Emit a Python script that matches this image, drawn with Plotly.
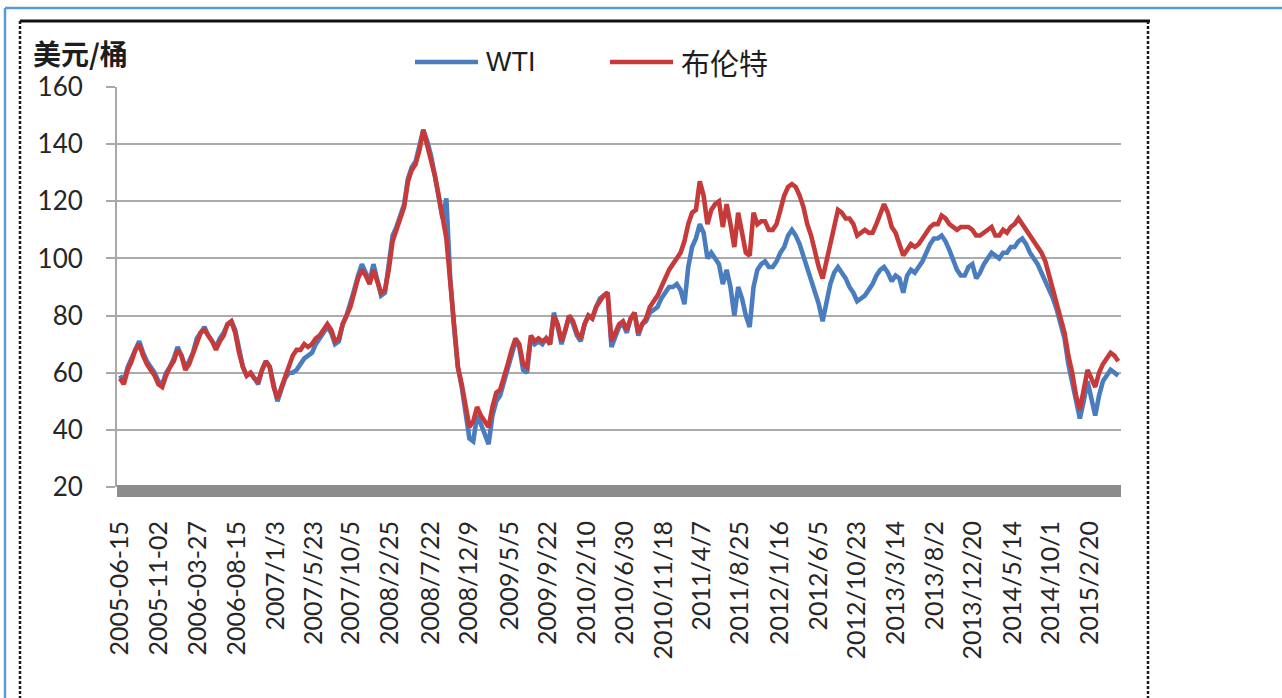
import pandas as pd
import plotly.graph_objects as go

# ---------------- data (one value every 14 days) ----------------
start_date = "2005-06-15"
step_days = 14

wti = [
    59, 57, 62, 65, 68, 71, 67, 64, 62, 60,
    57, 56, 60, 62, 65, 69, 66, 62, 64, 67,
    72, 74, 76, 73, 71, 69, 72, 74, 77, 78,
    75, 68, 62, 59, 60, 58, 56, 61, 64, 62,
    56, 50, 54, 58, 60, 60, 61, 63, 65, 66,
    67, 70, 72, 74, 76, 74, 70, 71, 77, 80,
    84, 89, 94, 98, 95, 92, 98, 92, 87, 88,
    97, 108, 111, 115, 119, 128, 132, 134, 139, 145,
    141, 136, 129, 122, 114, 121, 93, 76, 62, 55,
    47, 37, 36, 45, 42, 38, 35, 45, 50, 52,
    57, 62, 67, 71, 69, 61, 60, 72, 70, 71,
    70, 72, 70, 81, 76, 70, 75, 80, 77, 73,
    71, 77, 80, 79, 83, 86, 87, 88, 69, 73,
    76, 77, 74, 79, 81, 73, 77, 78, 81, 82,
    83, 86, 88, 90, 90, 91, 89, 84, 97, 104,
    107, 112, 109, 100, 102, 100, 98, 91, 96, 90,
    80, 90, 86, 80, 76, 90, 96, 98, 99, 97,
    97, 99, 102, 104, 108, 110, 108, 105, 101, 97,
    92, 88, 84, 78, 85, 91, 95, 97, 95, 93,
    90, 88, 85, 86, 87, 89, 91, 94, 96, 97,
    95, 92, 94, 93, 88, 94, 96, 95, 97, 99,
    102, 105, 107, 107, 108, 106, 103, 99, 96, 94,
    94, 97, 98, 93, 95, 98, 100, 102, 101, 100,
    102, 102, 104, 104, 106, 107, 105, 102, 100, 98,
    95, 92, 89, 86, 82, 77, 72, 63, 56, 49,
    44, 50, 57, 51, 45, 52, 57, 59, 61, 60,
    59,
]

brent = [
    58, 56, 61, 64, 68, 70, 66, 63, 61, 59,
    56, 55, 59, 62, 64, 68, 66, 61, 63, 67,
    71, 74, 75, 73, 71, 68, 71, 73, 77, 78,
    74, 67, 62, 59, 60, 58, 57, 61, 64, 62,
    55, 51, 55, 59, 63, 66, 68, 68, 70, 69,
    70, 72, 73, 75, 77, 75, 71, 72, 77, 80,
    83, 88, 93, 96, 94, 91, 96, 92, 88, 89,
    96, 106, 110, 114, 118, 127, 131, 133, 138, 145,
    140, 135, 129, 122, 114, 107, 92, 75, 62, 56,
    48, 41, 43, 48, 45, 43, 41, 48, 53, 54,
    58, 63, 68, 72, 70, 63, 62, 73, 71, 72,
    71, 72, 70, 80, 77, 71, 75, 80, 78, 74,
    72, 77, 80, 79, 83, 85, 87, 88, 71, 74,
    77, 78, 75, 79, 81, 74, 77, 79, 83, 85,
    87, 90, 93, 96, 98, 100, 102, 106, 112, 116,
    117, 127, 122, 112, 117, 119, 120, 111, 119, 112,
    104, 116, 108, 102, 101, 116, 112, 113, 113, 110,
    110, 112, 117, 122, 125, 126, 125, 122, 118, 112,
    108, 102, 97, 93, 99, 105, 111, 117, 116, 114,
    114, 112, 108, 109, 110, 109, 109, 112, 116, 119,
    116, 111, 109, 105, 101, 103, 105, 104, 105, 107,
    109, 111, 112, 112, 115, 114, 112, 111, 110, 111,
    111, 111, 110, 108, 108, 109, 110, 111, 108, 108,
    110, 109, 111, 112, 114, 112, 110, 108, 106, 104,
    102, 99, 94, 90, 85, 80, 74, 66, 60, 52,
    47, 54, 61, 58, 55, 60, 63, 65, 67, 66,
    64,
]

tick_labels = [
    "2005-06-15", "2005-11-02", "2006-03-27", "2006-08-15", "2007/1/3",
    "2007/5/23", "2007/10/5", "2008/2/25", "2008/7/22", "2008/12/9",
    "2009/5/5", "2009/9/22", "2010/2/10", "2010/6/30", "2010/11/18",
    "2011/4/7", "2011/8/25", "2012/1/16", "2012/6/5", "2012/10/23",
    "2013/3/14", "2013/8/2", "2013/12/20", "2014/5/14", "2014/10/1",
    "2015/2/20",
]
y_ticks = [20, 40, 60, 80, 100, 120, 140, 160]

series_names = ["WTI", "布伦特"]
series_colors = ["#4A7DC0", "#C63A3A"]

# ---------------- figure ----------------
dates = pd.date_range(start_date, periods=len(wti), freq=f"{step_days}D")
tick_vals = [pd.to_datetime(t.replace("/", "-")) for t in tick_labels]

fig = go.Figure()
for name, vals, col in zip(series_names, [wti, brent], series_colors):
    fig.add_trace(go.Scatter(x=dates, y=vals, name=name, mode="lines",
                             line=dict(color=col, width=4.6), showlegend=False))

L, R, T, B = 117, 1121, 87, 487
W, H = 1282, 698
pw, ph = R - L, B - T


def px(x):
    return (x - L) / pw


def py(y):
    return (B - y) / ph


font_main = "Lato, 'Noto Sans CJK SC', sans-serif"
text_col = "#262626"

fig.update_layout(
    width=W, height=H,
    margin=dict(l=L, r=W - R, t=T, b=H - B, pad=0),
    paper_bgcolor="white", plot_bgcolor="white",
    font=dict(family=font_main, size=26, color=text_col),
    xaxis=dict(type="date", range=["2005-06-04", "2015-06-13"],
               tickmode="array", tickvals=tick_vals, ticktext=tick_labels,
               tickangle=-90, showgrid=False, showline=False, zeroline=False,
               ticks="", ticklabelstandoff=28,
               tickfont=dict(size=25, color=text_col)),
    yaxis=dict(range=[20, 160], tickmode="array", tickvals=y_ticks,
               showgrid=True, gridcolor="#ABABAB", gridwidth=1.6,
               showline=True, linecolor="#A8A8A8", linewidth=2,
               ticks="outside", ticklen=9, tickcolor="#A8A8A8", tickwidth=1.6,
               ticklabelstandoff=18, zeroline=False,
               tickfont=dict(size=26, color=text_col)),
)

shapes = []
# thick hatched-looking category-axis band
shapes.append(dict(type="rect", xref="paper", yref="paper", x0=0, x1=1,
                   y0=py(497), y1=py(485), fillcolor="#8C8C8C",
                   line=dict(width=0), layer="above"))
# outer blue frame
shapes.append(dict(type="line", xref="paper", yref="paper", x0=px(5), x1=px(5),
                   y0=py(8), y1=py(H + 2), line=dict(color="#5B9BD5", width=2.5)))
shapes.append(dict(type="line", xref="paper", yref="paper", x0=px(5), x1=px(W + 2),
                   y0=py(8), y1=py(8), line=dict(color="#5B9BD5", width=2.5)))
# inner black panel frame
shapes.append(dict(type="line", xref="paper", yref="paper", x0=px(20), x1=px(1150),
                   y0=py(21), y1=py(21), line=dict(color="#111111", width=3)))
for xx in (20, 1148):
    shapes.append(dict(type="line", xref="paper", yref="paper", x0=px(xx), x1=px(xx),
                       y0=py(21), y1=py(H + 2),
                       line=dict(color="#1A1A1A", width=2.5, dash="3px,2px")))
# custom legend lines
for (x0, x1), col in zip([(415, 478), (610, 673)], series_colors):
    shapes.append(dict(type="line", xref="paper", yref="paper", x0=px(x0), x1=px(x1),
                       y0=py(62), y1=py(62), line=dict(color=col, width=4.5)))
fig.update_layout(shapes=shapes)

annotations = [
    dict(text="美元/桶", xref="paper", yref="paper", x=px(31), y=py(53),
         xanchor="left", yanchor="middle", showarrow=False,
         font=dict(family="'Noto Sans CJK SC', sans-serif", size=28,
                   color="#1E1E1E", weight="bold")),
    dict(text=series_names[0], xref="paper", yref="paper", x=px(484), y=py(62),
         xanchor="left", yanchor="middle", showarrow=False,
         font=dict(family="'Liberation Sans', Arial, sans-serif", size=27, color="#1E1E1E")),
    dict(text=series_names[1], xref="paper", yref="paper", x=px(679), y=py(62),
         xanchor="left", yanchor="middle", showarrow=False,
         font=dict(family="'Noto Sans CJK SC', sans-serif", size=29, color="#1E1E1E")),
]
fig.update_layout(annotations=annotations)

fig.write_html("out.html")
